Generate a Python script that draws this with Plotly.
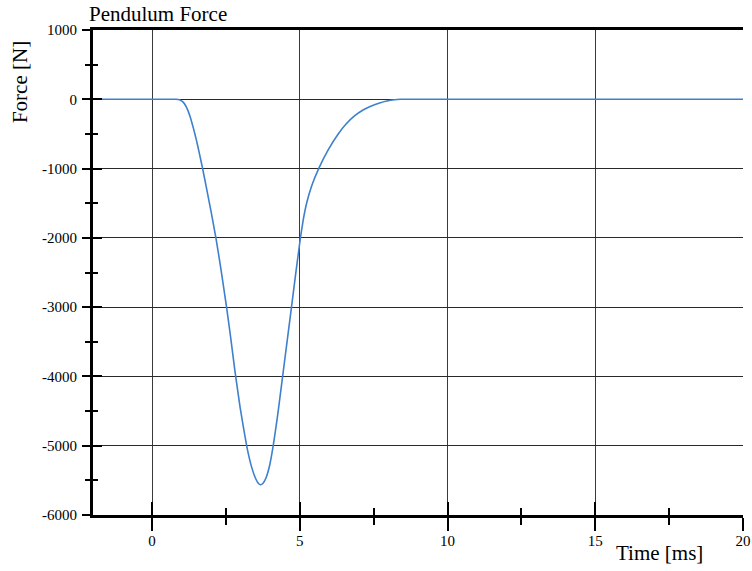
import plotly.graph_objects as go

# Pendulum impact force vs time
time_ms = [-2.0, 0.5, 0.8, 0.95, 1.06, 1.17, 1.28, 1.4, 1.5, 1.6, 1.71, 1.85, 2.0,
           2.16, 2.33, 2.52, 2.66, 2.80, 2.98, 3.2, 3.35, 3.5, 3.6, 3.67, 3.75, 3.85,
           3.97, 4.10, 4.25, 4.40, 4.55, 4.70, 4.86, 5.02, 5.12, 5.23, 5.40, 5.65,
           5.96, 6.3, 6.58, 6.85, 7.14, 7.4, 7.70, 7.95, 8.2, 8.4, 8.7, 20.0]
force_n = [0, 0, 0, -12, -45, -120, -240, -420, -590, -780, -1000, -1300, -1630,
           -2000, -2450, -3000, -3440, -3910, -4450, -5000, -5280, -5470, -5545, -5563,
           -5545, -5470, -5300, -5000, -4560, -4060, -3560, -3060, -2520, -2000, -1730,
           -1500, -1250, -990, -730, -500, -350, -240, -155, -100, -52, -24, -7,
           0, 0, 0]

x_ticks = [0, 5, 10, 15, 20]
y_ticks = [1000, 0, -1000, -2000, -3000, -4000, -5000, -6000]

serif = "Liberation Serif, Times New Roman, serif"
x_range = [-2, 20]
y_range = [-6000, 1000]

fig = go.Figure()
fig.add_trace(go.Scatter(x=time_ms, y=force_n, mode="lines",
                         line=dict(color="rgb(62,128,205)", width=1.6, shape="spline", smoothing=0.4),
                         showlegend=False, hoverinfo="skip"))
# same curve on the overlay axes so they render their inner tick marks
fig.add_trace(go.Scatter(x=time_ms, y=force_n, mode="lines", xaxis="x2", yaxis="y2",
                         line=dict(width=0), opacity=0, showlegend=False, hoverinfo="skip"))

tick_font = dict(family=serif, size=15, color="black")

fig.update_layout(
    width=752, height=571,
    margin=dict(l=93, r=9, t=30, b=56),
    paper_bgcolor="white", plot_bgcolor="white",
    font=tick_font,
    xaxis=dict(range=x_range, tickmode="array", tickvals=x_ticks,
               ticktext=[str(v) for v in x_ticks], automargin=False,
               ticks="outside", ticklen=13, tickwidth=2, tickcolor="black",
               minor=dict(ticks="outside", ticklen=7, tickwidth=2, tickcolor="black",
                          dtick=2.5, tick0=0, showgrid=False),
               showline=True, linewidth=3, linecolor="black", mirror=True,
               showgrid=True, gridcolor="#3a3a3a", gridwidth=1,
               zeroline=False, tickfont=tick_font, ticklabelstandoff=-3),
    yaxis=dict(range=y_range, tickmode="array", tickvals=y_ticks,
               ticktext=[str(v) for v in y_ticks], automargin=False,
               ticks="outside", ticklen=8, tickwidth=2, tickcolor="black",
               minor=dict(ticks="outside", ticklen=5, tickwidth=2, tickcolor="black",
                          dtick=500, tick0=0, showgrid=False),
               showline=True, linewidth=3, linecolor="black",
               showgrid=True, gridcolor="#2a2a2a", gridwidth=1.3,
               zeroline=False, tickfont=tick_font, ticklabelstandoff=2),
    xaxis2=dict(range=x_range, overlaying="x", anchor="y", side="bottom",
                tickmode="array", tickvals=x_ticks, showticklabels=False,
                ticks="inside", ticklen=13, tickwidth=2, tickcolor="black",
                minor=dict(ticks="inside", ticklen=7, tickwidth=2, tickcolor="black",
                           dtick=2.5, tick0=0, showgrid=False),
                showgrid=False, zeroline=False, showline=False, automargin=False),
    yaxis2=dict(range=y_range, overlaying="y", anchor="x", side="left",
                tickmode="array", tickvals=y_ticks, showticklabels=False,
                ticks="inside", ticklen=9, tickwidth=2, tickcolor="black",
                minor=dict(ticks="inside", ticklen=5, tickwidth=2, tickcolor="black",
                           dtick=500, tick0=0, showgrid=False),
                showgrid=False, zeroline=False, showline=False, automargin=False),
    annotations=[
        dict(text="Pendulum Force", xref="paper", yref="paper", x=-0.01, y=1.033,
             xanchor="left", yanchor="middle", showarrow=False,
             font=dict(family=serif, size=21, color="black")),
        dict(text="Time [ms]", xref="paper", yref="paper", x=0.872, y=-0.078,
             xanchor="center", yanchor="middle", showarrow=False,
             font=dict(family=serif, size=21, color="black")),
        dict(text="Force [N]", xref="paper", yref="paper", x=-0.112, y=0.893,
             xanchor="center", yanchor="middle", showarrow=False, textangle=-90,
             font=dict(family=serif, size=21, color="black")),
    ],
)

fig.write_html("out.html")
